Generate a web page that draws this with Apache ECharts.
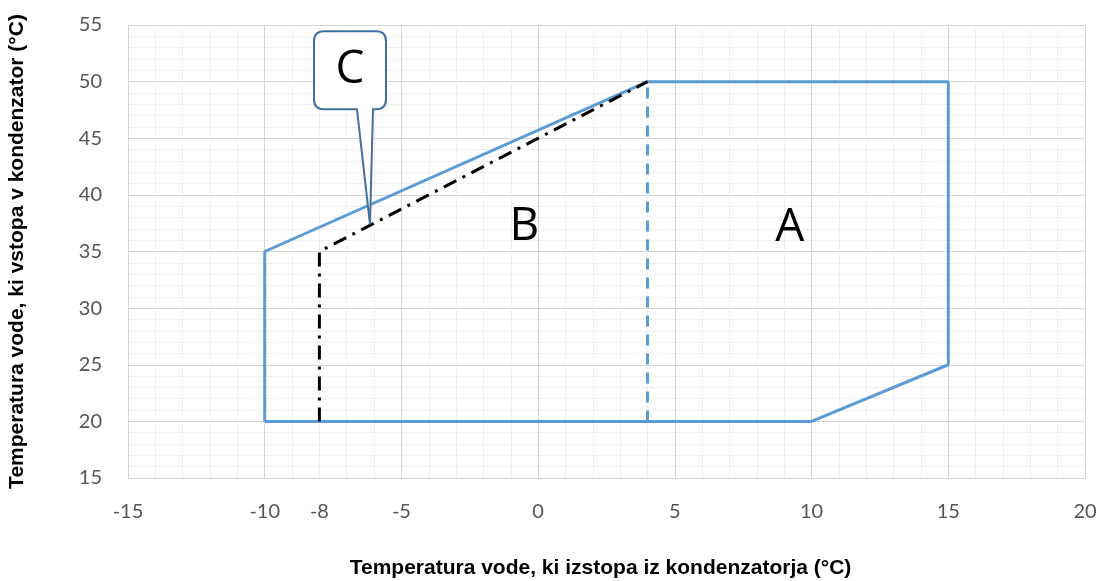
<!DOCTYPE html>
<html>
<head>
<meta charset="utf-8">
<script src="https://cdn.jsdelivr.net/npm/echarts@6/dist/echarts.min.js"></script>
<style>
html,body{margin:0;padding:0;background:#fff;}
#chart{width:1104px;height:581px;}
</style>
</head>
<body>
<div id="chart"></div>
<script>
// obmocje delovanja (meja A+B)
var boundaryX = [-10, -10, 4, 15, 15, 10, -10];
var boundaryY = [20, 35, 50, 50, 25, 20, 20];
// meja med A in B
var splitX = [4, 4];
var splitY = [20, 50];
// meja C (crta-pika)
var limitCX = [-8, -8, 4];
var limitCY = [20, 35, 50];
// oznake obmocij
var regionNames = ['B', 'A'];
var regionX = [-0.5, 9.2];
var regionY = [37.2, 37.1];
// kazalec oblacka C
var calloutX = [-6.15];
var calloutY = [37.4];
var calloutText = ['C'];

function pairs(xs, ys){
	var out = [];
	for(var i=0; i<xs.length; i++){
		out.push([xs[i], ys[i]]);
	}
	return out;
}

var gridColors = ['#d4d4d4', '#efefef', '#efefef', '#efefef', '#efefef'];
var labelFont = 'Lato, "Open Sans", sans-serif';
var bigFont = '"Open Sans", Lato, sans-serif';

var myChart = echarts.init(document.getElementById('chart'));
var option = {
	animation: false,
	grid: { left: 128, right: 19, top: 25, bottom: 103, outerBoundsMode: 'none' },
	xAxis: {
		type: 'value',
		min: -15, max: 20, interval: 1,
		name: 'Temperatura vode, ki izstopa iz kondenzatorja (°C)',
		nameLocation: 'middle',
		nameGap: 80,
		nameTextStyle: { fontFamily: 'Arial, "Liberation Sans"', fontWeight: 'bold', fontSize: 21, color: '#000', padding: [0, 12, 0, 0] },
		axisLine: { show: false },
		axisTick: { show: false },
		axisLabel: {
			margin: 24,
			fontSize: 20,
			color: '#555',
			fontFamily: labelFont,
			hideOverlap: false,
			formatter: function(v){
				return (v % 5 === 0 || v === -8) ? String(v) : '';
			}
		},
		splitLine: { show: true, lineStyle: { color: gridColors, width: 1 } }
	},
	yAxis: {
		type: 'value',
		min: 15, max: 55, interval: 1,
		name: 'Temperatura vode, ki vstopa v kondenzator (°C)',
		nameLocation: 'middle',
		nameGap: 100,
		nameTextStyle: { fontFamily: 'Arial, "Liberation Sans"', fontWeight: 'bold', fontSize: 21, color: '#000' },
		axisLine: { show: false },
		axisTick: { show: false },
		axisLabel: {
			margin: 26,
			fontSize: 20,
			color: '#555',
			fontFamily: labelFont,
			formatter: function(v){
				return v % 5 === 0 ? String(v) : '';
			}
		},
		splitLine: { show: true, lineStyle: { color: gridColors, width: 1 } }
	},
	series: [
		{
			type: 'line',
			data: pairs(boundaryX, boundaryY),
			showSymbol: false,
			lineStyle: { color: '#5b9bd5', width: 3 },
			z: 3
		},
		{
			type: 'line',
			data: pairs(splitX, splitY),
			showSymbol: false,
			lineStyle: { color: '#5b9bd5', width: 3, type: [11, 8] },
			z: 3
		},
		{
			type: 'line',
			data: pairs(limitCX, limitCY),
			showSymbol: false,
			lineStyle: { color: '#000', width: 3, type: [14, 7, 3, 7] },
			z: 4
		},
		{
			type: 'scatter',
			symbolSize: 0,
			itemStyle: { opacity: 1 },
			data: regionNames.map(function(n, i){ return { name: n, value: [regionX[i], regionY[i]] }; }),
			label: {
				show: true,
				position: 'inside',
				formatter: '{b}',
				fontSize: 46,
				color: '#000',
				fontFamily: bigFont
			},
			z: 5
		},
		{
			type: 'custom',
			itemStyle: { opacity: 1 },
			data: pairs(calloutX, calloutY),
			renderItem: function(params, api){
				var p = api.coord([api.value(0), api.value(1)]);
				var l = p[0] - 56, R = p[0] + 16, t = p[1] - 193, b = p[1] - 115, r = 10;
				var bl = p[0] - 13, br = p[0] + 3;
				var d = 'M' + (l + r) + ' ' + t +
					' H' + (R - r) + ' Q' + R + ' ' + t + ' ' + R + ' ' + (t + r) +
					' V' + (b - r) + ' Q' + R + ' ' + b + ' ' + (R - r) + ' ' + b +
					' H' + br + ' L' + p[0] + ' ' + p[1] + ' L' + bl + ' ' + b +
					' H' + (l + r) + ' Q' + l + ' ' + b + ' ' + l + ' ' + (b - r) +
					' V' + (t + r) + ' Q' + l + ' ' + t + ' ' + (l + r) + ' ' + t + ' Z';
				return {
					type: 'group',
					children: [
						{
							type: 'path',
							shape: { pathData: d },
							style: { fill: '#fff', stroke: '#41719c', lineWidth: 2, opacity: 1 }
						},
						{
							type: 'text',
							style: {
								text: calloutText[params.dataIndex],
								x: (l + R) / 2, y: (t + b) / 2,
								align: 'center', verticalAlign: 'middle',
								fontSize: 46, fill: '#000', opacity: 1, fontFamily: bigFont
							}
						}
					]
				};
			},
			z: 6
		}
	]
};
myChart.setOption(option);
</script>
</body>
</html>
